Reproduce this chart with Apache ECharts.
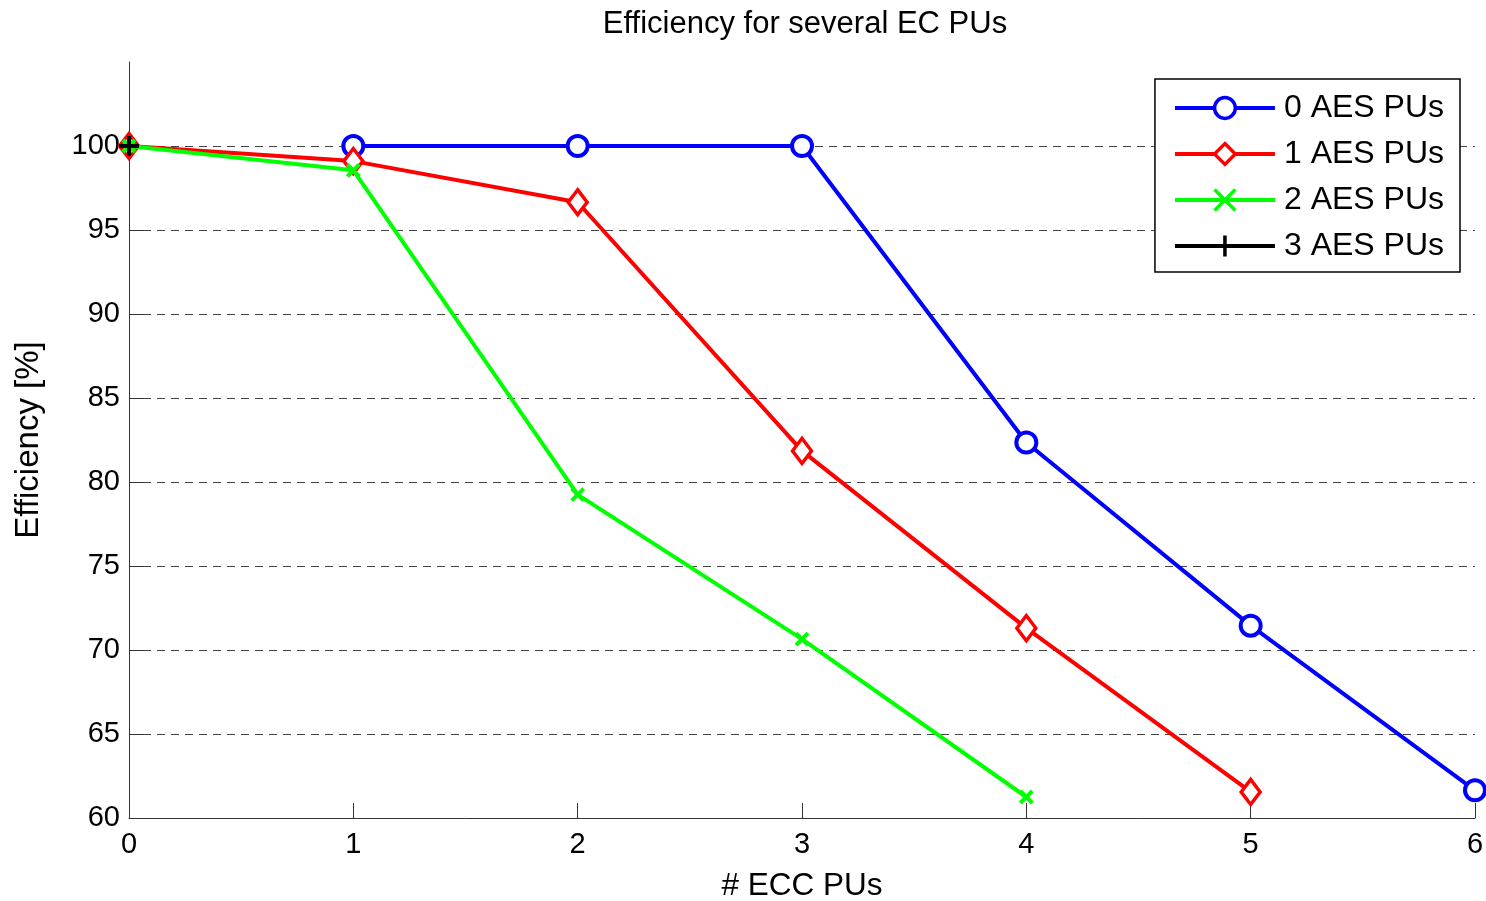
<!DOCTYPE html>
<html>
<head>
<meta charset="utf-8">
<script src="https://cdn.jsdelivr.net/npm/echarts@6/dist/echarts.min.js"></script>
<style>html,body{margin:0;padding:0;background:#fff}#c{width:1486px;height:901px}</style>
</head>
<body>
<div id="c"></div>
<script>
const seriesNames = ['0 AES PUs', '1 AES PUs', '2 AES PUs', '3 AES PUs'];
const aes0X = [1, 2, 3, 4, 5, 6];
const aes0Y = [100, 100, 100, 82.35, 71.45, 61.65];
const aes1X = [0, 1, 2, 3, 4, 5];
const aes1Y = [100, 99.1, 96.65, 81.85, 71.3, 61.55];
const aes2X = [0, 1, 2, 3, 4];
const aes2Y = [100, 98.55, 79.25, 70.65, 61.25];
const aes3X = [0];
const aes3Y = [100];
const yTicks = [60, 65, 70, 75, 80, 85, 90, 95, 100];

const pair = (xs, ys) => xs.map((x, i) => [x, ys[i]]);
const FONT = 'Liberation Sans, Arial, sans-serif';

const xPath = 'path://M0,0 L10,10 M10,0 L0,10';
const plusPath = 'path://M5,0 L5,10 M0,5 L10,5';

const chart = echarts.init(document.getElementById('c'), null, {renderer: 'canvas'});
chart.setOption({
  animation: false,
  backgroundColor: '#fff',
  title: {
    text: 'Efficiency for several EC PUs',
    left: 800, top: 4, textAlign: 'center',
    textStyle: {fontFamily: FONT, fontSize: 31, fontWeight: 'normal', color: '#000'}
  },
  grid: {left: 129, right: 11, top: 62, bottom: 83, containLabel: false, outerBoundsMode: 'none'},
  legend: {
    orient: 'vertical', right: 26, top: 79,
    backgroundColor: '#fff', borderColor: '#000', borderWidth: 1.5,
    padding: [11, 16, 8, 18], itemWidth: 100, itemHeight: 26, itemGap: 10,
    lineStyle: {width: 4},
    itemStyle: {borderWidth: 3.5},
    textStyle: {fontFamily: FONT, fontSize: 32, lineHeight: 36, color: '#000', padding: [0, 0, 0, 4]},
    data: seriesNames
  },
  xAxis: {
    type: 'value', min: 0, max: 6, interval: 1,
    name: '# ECC PUs', nameLocation: 'middle', nameGap: 52,
    nameTextStyle: {fontFamily: FONT, fontSize: 31.5, color: '#000'},
    axisLine: {show: true, onZero: false, lineStyle: {color: '#333', width: 1}},
    axisTick: {show: true, inside: true, length: 15, lineStyle: {color: '#333'}},
    axisLabel: {fontFamily: FONT, fontSize: 29, color: '#000', margin: 12},
    splitLine: {show: false}
  },
  yAxis: {
    type: 'value', min: 60, max: 105, interval: 5,
    name: 'Efficiency [%]', nameLocation: 'middle', nameGap: 84, nameRotate: 90,
    nameTextStyle: {fontFamily: FONT, fontSize: 33, color: '#000'},
    axisLine: {show: true, onZero: false, lineStyle: {color: '#333', width: 1}},
    axisTick: {show: true, inside: true, length: 15, lineStyle: {color: '#333'},
               customValues: yTicks},
    axisLabel: {fontFamily: FONT, fontSize: 29, color: '#000', margin: 9, showMaxLabel: false,
                formatter: v => (v > 100 ? '' : String(v))},
    splitLine: {show: true, showMinLine: false, showMaxLine: true,
                lineStyle: {color: '#444', type: [8, 6], width: 1}}
  },
  series: [
    {
      name: seriesNames[0], type: 'line', data: pair(aes0X, aes0Y),
      symbol: 'circle', symbolSize: 20, showAllSymbol: true,
      lineStyle: {color: '#0000ff', width: 4},
      itemStyle: {color: '#ffffff', borderColor: '#0000ff', borderWidth: 4}, z: 2
    },
    {
      name: seriesNames[1], type: 'line', data: pair(aes1X, aes1Y),
      symbol: 'diamond', symbolSize: [19, 25], showAllSymbol: true,
      lineStyle: {color: '#ff0000', width: 4},
      itemStyle: {color: '#ffffff', borderColor: '#ff0000', borderWidth: 3.5}, z: 3
    },
    {
      name: seriesNames[2], type: 'line', data: pair(aes2X, aes2Y),
      symbol: xPath, symbolSize: 12, showAllSymbol: true,
      lineStyle: {color: '#00ff00', width: 4},
      itemStyle: {color: 'none', borderColor: '#00ff00', borderWidth: 4}, z: 4
    },
    {
      name: seriesNames[3], type: 'line', data: pair(aes3X, aes3Y),
      symbol: plusPath, symbolSize: 20, showAllSymbol: true,
      lineStyle: {color: '#000000', width: 4},
      itemStyle: {color: 'none', borderColor: '#000000', borderWidth: 4}, z: 5
    }
  ]
});
</script>
</body>
</html>
